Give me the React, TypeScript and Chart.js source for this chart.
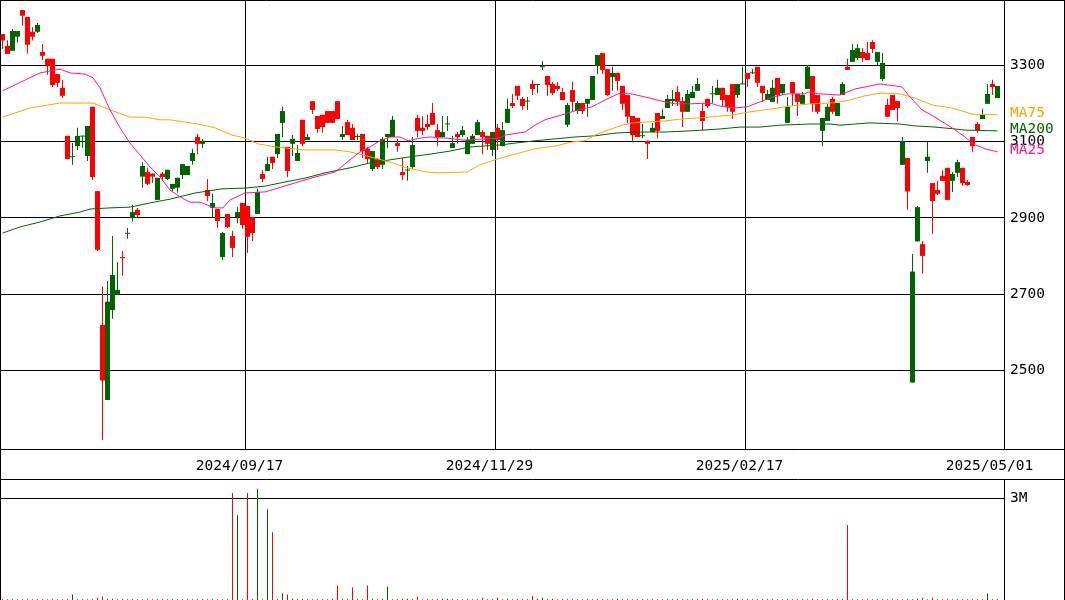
import React, { useEffect, useRef } from "react";
import { Chart, registerables } from "chart.js";

Chart.register(...registerables);

const FONT = "'DejaVu Sans Mono', 'Liberation Mono', monospace";
const FONT_SIZE = 14.5;
const UP_COLOR = "#006400";
const DOWN_COLOR = "#ff0000";
const MA25_COLOR = "#ff1493";
const MA75_COLOR = "#ffa500";
const MA200_COLOR = "#006400";

// Daily candles (index 0 .. 199), oldest first
const opens = [
  3382, 3351, 3338, 3375, 3445, 3427, 3388, 3388, 3335, 3317,
  3317, 3277, 3241, 3115, 3059, 3088, 3113, 3062, 3191, 2970,
  2619, 2422, 2658, 2698, 2797, 2858, 2899, 2921, 3008, 3020,
  3016, 2947, 3016, 3002, 2976, 2979, 3012, 3012, 3049, 3112,
  3094, 2973, 2926, 2923, 2797, 2910, 2852, 2902, 2939, 2931,
  2902, 2910, 3015, 3023, 3060, 3067, 3149, 3086, 3094, 3049,
  3157, 3104, 3206, 3167, 3170, 3180, 3180, 3206, 3112, 3151,
  3136, 3112, 3120, 3081, 3028, 3054, 3039, 3112, 3112, 3096,
  3020, 3024, 3033, 3162, 3136, 3146, 3175, 3130, 3112, 3145,
  3083, 3120, 3117, 3067, 3094, 3117, 3125, 3115, 3078, 3136,
  3088, 3149, 3201, 3246, 3212, 3205, 3251, 3248, 3295, 3272,
  3251, 3246, 3230, 3144, 3235, 3180, 3201, 3199, 3209, 3298,
  3332, 3290, 3269, 3280, 3246, 3222, 3167, 3162, 3114, 3102,
  3125, 3175, 3159, 3188, 3206, 3230, 3206, 3178, 3214, 3233,
  3180, 3212, 3224, 3222, 3241, 3222, 3251, 3222, 3250, 3280,
  3279, 3296, 3246, 3209, 3204, 3267, 3227, 3149, 3256, 3225,
  3199, 3238, 3272, 3222, 3128, 3154, 3212, 3167, 3222, 3296,
  3309, 3319, 3335, 3332, 3361, 3309, 3264, 3196, 3222, 3206,
  3039, 3057, 2468, 2838, 2831, 3049, 2991, 2973, 3010, 3031,
  2997, 3018, 3031, 2994, 3112, 3146, 3159, 3199, 3251, 3214,
];
const highs = [
  3382, 3366, 3395, 3390, 3445, 3427, 3400, 3411, 3356, 3317,
  3317, 3277, 3262, 3115, 3096, 3136, 3115, 3141, 3191, 2970,
  2720, 2734, 2852, 2784, 2813, 2873, 2934, 2926, 3046, 3031,
  3016, 3005, 3020, 3026, 2989, 3005, 3041, 3036, 3081, 3120,
  3107, 3002, 2963, 2923, 2863, 2910, 2866, 2928, 2939, 2931,
  2902, 2976, 3025, 3060, 3060, 3120, 3191, 3086, 3117, 3091,
  3157, 3120, 3206, 3167, 3170, 3180, 3180, 3206, 3141, 3157,
  3146, 3120, 3120, 3086, 3075, 3057, 3112, 3120, 3167, 3107,
  3057, 3036, 3112, 3170, 3167, 3170, 3201, 3146, 3167, 3167,
  3115, 3125, 3141, 3112, 3120, 3157, 3130, 3115, 3125, 3146,
  3151, 3212, 3225, 3246, 3217, 3217, 3262, 3251, 3311, 3272,
  3256, 3256, 3241, 3201, 3256, 3206, 3201, 3212, 3272, 3327,
  3332, 3290, 3296, 3280, 3246, 3222, 3167, 3162, 3146, 3102,
  3149, 3175, 3186, 3222, 3235, 3246, 3217, 3235, 3246, 3267,
  3199, 3212, 3246, 3262, 3241, 3222, 3251, 3251, 3296, 3280,
  3290, 3296, 3246, 3235, 3262, 3267, 3251, 3217, 3256, 3225,
  3230, 3301, 3272, 3222, 3162, 3199, 3217, 3201, 3256, 3317,
  3356, 3356, 3345, 3361, 3366, 3335, 3332, 3212, 3222, 3206,
  3112, 3057, 2805, 2931, 2839, 3099, 2991, 2997, 3025, 3031,
  3020, 3052, 3031, 2999, 3112, 3151, 3186, 3251, 3262, 3246,
];
const lows = [
  3343, 3330, 3338, 3359, 3404, 3330, 3365, 3385, 3314, 3275,
  3243, 3243, 3214, 3054, 3039, 3078, 3084, 3049, 2999, 2813,
  2317, 2422, 2635, 2698, 2748, 2845, 2890, 2902, 2979, 2986,
  2992, 2947, 2999, 2999, 2969, 2966, 3002, 3012, 3039, 3067,
  3083, 2944, 2902, 2873, 2789, 2873, 2797, 2886, 2871, 2808,
  2839, 2910, 2994, 3023, 3028, 3057, 3112, 3007, 3062, 3049,
  3088, 3104, 3172, 3123, 3123, 3149, 3149, 3159, 3104, 3117,
  3104, 3104, 3057, 3044, 3023, 3028, 3028, 3083, 3112, 3073,
  2999, 2997, 3028, 3112, 3117, 3130, 3144, 3088, 3112, 3128,
  3083, 3094, 3112, 3067, 3094, 3117, 3067, 3078, 3062, 3078,
  3088, 3149, 3188, 3209, 3183, 3183, 3222, 3227, 3288, 3220,
  3222, 3233, 3209, 3138, 3178, 3172, 3172, 3165, 3209, 3277,
  3277, 3220, 3233, 3233, 3183, 3149, 3099, 3112, 3109, 3054,
  3125, 3109, 3159, 3188, 3193, 3193, 3138, 3178, 3214, 3233,
  3130, 3188, 3201, 3222, 3193, 3178, 3159, 3214, 3250, 3243,
  3277, 3243, 3204, 3209, 3204, 3199, 3222, 3149, 3193, 3167,
  3199, 3238, 3178, 3172, 3088, 3154, 3172, 3167, 3222, 3288,
  3309, 3314, 3309, 3314, 3332, 3301, 3259, 3165, 3183, 3154,
  3039, 2921, 2468, 2838, 2753, 3018, 2858, 2960, 2997, 2947,
  2968, 3007, 2984, 2984, 3073, 3123, 3159, 3199, 3222, 3214,
];
const closes = [
  3365, 3330, 3390, 3390, 3430, 3354, 3375, 3406, 3325, 3299,
  3248, 3254, 3220, 3054, 3061, 3115, 3115, 3141, 3007, 2816,
  2473, 2680, 2750, 2711, 2794, 2860, 2915, 2907, 3036, 2989,
  3008, 3005, 3007, 3026, 2989, 3005, 3041, 3036, 3070, 3094,
  3102, 2957, 2939, 2892, 2860, 2876, 2821, 2915, 2881, 2850,
  2860, 2968, 3002, 3041, 3044, 3120, 3180, 3023, 3107, 3070,
  3094, 3112, 3183, 3133, 3138, 3149, 3149, 3159, 3120, 3117,
  3104, 3115, 3075, 3054, 3075, 3033, 3107, 3120, 3157, 3088,
  3012, 3026, 3091, 3128, 3128, 3138, 3144, 3112, 3125, 3147,
  3096, 3112, 3130, 3104, 3115, 3151, 3112, 3094, 3125, 3104,
  3130, 3186, 3193, 3220, 3193, 3207, 3238, 3251, 3297, 3248,
  3227, 3238, 3209, 3196, 3204, 3201, 3180, 3212, 3272, 3327,
  3288, 3222, 3280, 3259, 3199, 3165, 3117, 3112, 3116, 3094,
  3136, 3128, 3167, 3212, 3212, 3204, 3178, 3225, 3230, 3251,
  3154, 3193, 3226, 3241, 3209, 3191, 3178, 3251, 3252, 3264,
  3281, 3254, 3227, 3225, 3241, 3222, 3251, 3191, 3227, 3204,
  3222, 3296, 3199, 3178, 3162, 3191, 3178, 3201, 3251, 3288,
  3340, 3345, 3319, 3314, 3343, 3335, 3306, 3165, 3183, 3188,
  3101, 2969, 2759, 2928, 2800, 3060, 2944, 2963, 2997, 2947,
  3015, 3046, 2991, 2986, 3088, 3130, 3170, 3225, 3243, 3246,
];
const volumes = [
  20000, 20000, 20000, 20000, 20000, 20000, 20000, 20000, 20000, 20000,
  20000, 20000, 20000, 20000, 160000, 20000, 20000, 20000, 20000, 70000,
  100000, 40000, 40000, 20000, 20000, 20000, 20000, 20000, 20000, 20000,
  20000, 20000, 20000, 20000, 20000, 20000, 20000, 20000, 20000, 20000,
  20000, 20000, 20000, 20000, 20000, 20000, 3160000, 2500000, 20000, 3160000,
  20000, 3280000, 20000, 2680000, 2000000, 20000, 190000, 160000, 40000, 20000,
  40000, 20000, 20000, 20000, 20000, 20000, 40000, 425000, 20000, 20000,
  366000, 20000, 20000, 425000, 40000, 20000, 40000, 396000, 20000, 20000,
  40000, 40000, 20000, 100000, 20000, 20000, 20000, 20000, 40000, 40000,
  20000, 20000, 20000, 20000, 20000, 20000, 70000, 20000, 20000, 70000,
  20000, 40000, 20000, 20000, 20000, 20000, 129000, 40000, 70000, 20000,
  40000, 20000, 20000, 20000, 20000, 20000, 20000, 20000, 20000, 20000,
  20000, 20000, 20000, 40000, 20000, 20000, 20000, 20000, 20000, 20000,
  20000, 20000, 20000, 20000, 20000, 20000, 20000, 20000, 20000, 20000,
  40000, 20000, 20000, 20000, 20000, 20000, 20000, 40000, 20000, 20000,
  20000, 20000, 20000, 20000, 20000, 20000, 20000, 20000, 20000, 20000,
  20000, 20000, 40000, 20000, 20000, 20000, 20000, 20000, 20000, 2210000,
  20000, 20000, 20000, 20000, 20000, 20000, 20000, 20000, 20000, 20000,
  20000, 20000, 20000, 40000, 70000, 20000, 70000, 20000, 20000, 20000,
  20000, 20000, 20000, 20000, 20000, 20000, 20000, 190000, 20000, 20000,
];

// Moving averages (candle index, value)
const ma25Idx = [0, 7.5, 11.5, 13.5, 16.5, 18.1, 19.5, 21.5, 23.5, 25.5, 27.5, 29.5, 31.5, 33.5, 35.5, 37.5, 39.5, 42.5, 44.1, 45.5, 48.5, 52.5, 55.9, 59.1, 62.5, 66.5, 69.5, 71.5, 73.5, 75.5, 77.5, 79.5, 81.1, 83.5, 85.5, 88.9, 92.1, 99.5, 100.5, 104.5, 106.5, 108.5, 111.9, 115.1, 117.9, 120.5, 123.1, 125.1, 128.5, 132.5, 134.5, 137.5, 141.5, 143.5, 146.1, 148.9, 151.5, 154.1, 156.9, 160.5, 161.1, 163.5, 167.5, 170.5, 173.5, 175.5, 178.5, 179.9, 181.5, 183.9, 186.5, 189.9, 192.5, 194.1, 196.5, 199];
const ma25Val = [3233, 3280, 3290, 3280, 3277, 3267, 3241, 3183, 3136, 3096, 3065, 3033, 3007, 2973, 2955, 2941, 2941, 2926, 2926, 2947, 2965, 2968, 2981, 2994, 3007, 3020, 3052, 3073, 3086, 3102, 3112, 3112, 3102, 3109, 3112, 3109, 3104, 3109, 3117, 3125, 3143, 3157, 3170, 3183, 3191, 3209, 3225, 3227, 3217, 3204, 3199, 3199, 3201, 3193, 3188, 3191, 3204, 3217, 3225, 3225, 3230, 3225, 3222, 3238, 3246, 3251, 3246, 3243, 3217, 3183, 3164, 3136, 3112, 3094, 3081, 3073];
const ma75Idx = [0, 5.5, 11.5, 18.1, 21.5, 25.5, 28.5, 31.5, 33.5, 39.1, 42.5, 45.9, 48.5, 51.1, 54.5, 60.5, 66.5, 69.5, 73.5, 77.5, 80.9, 84.9, 86.9, 92.9, 95.5, 98.9, 102.5, 106.5, 110.5, 113.9, 116.5, 118.5, 121.1, 123.9, 125.9, 132.5, 135.5, 139.5, 143.5, 146.1, 149.5, 153.5, 157.5, 161.5, 165.5, 168.5, 172.5, 175.5, 179.5, 182.5, 185.9, 189.9, 193.9, 199];
const ma75Val = [3164, 3188, 3201, 3201, 3183, 3164, 3164, 3157, 3157, 3146, 3136, 3117, 3109, 3094, 3086, 3078, 3078, 3073, 3060, 3046, 3031, 3020, 3018, 3020, 3039, 3054, 3067, 3081, 3088, 3099, 3102, 3117, 3130, 3143, 3149, 3154, 3159, 3162, 3167, 3170, 3178, 3185, 3193, 3199, 3201, 3206, 3220, 3227, 3225, 3214, 3196, 3188, 3172, 3170];
const ma200Idx = [0, 3.5, 7.5, 11.5, 15.5, 17.5, 21.5, 25.5, 29.5, 33.5, 38.5, 43.9, 48.5, 52.5, 56.5, 60.5, 64.5, 69.5, 73.5, 77.5, 81.5, 85.5, 89.5, 93.5, 99.5, 102.5, 106.5, 110.5, 114.5, 118.5, 122.5, 126.5, 132.5, 137.5, 143.5, 147.5, 151.5, 155.5, 161.5, 165.5, 167.5, 173.5, 179.5, 182.5, 186.5, 190.5, 192.5, 199];
const ma200Val = [2860, 2876, 2889, 2905, 2915, 2923, 2926, 2928, 2939, 2949, 2965, 2976, 2978, 2983, 2994, 3004, 3018, 3031, 3044, 3052, 3060, 3067, 3075, 3086, 3091, 3096, 3102, 3107, 3112, 3115, 3122, 3125, 3125, 3128, 3133, 3138, 3138, 3143, 3146, 3146, 3143, 3149, 3146, 3141, 3138, 3133, 3130, 3128];

// Axis ticks
const dateTickPos = [48.6, 98.6, 148.6, 198.6];
const dateLabels = ["2024/09/17", "2024/11/29", "2025/02/17", "2025/05/01"];
const priceTicks = [2500, 2700, 2900, 3100, 3300];
const volumeTicks = [3000000];
const volumeTickLabels = ["3M"];

const X_MIN = -0.5;
const X_MAX = 200.3;
const PRICE_MIN = 2293.6;
const PRICE_MAX = 3471.3;
const VOLUME_MAX = 3540000;

function pairs(idx: number[], vals: number[]) {
  const n = Math.min(idx.length, vals.length);
  const out: { x: number; y: number }[] = [];
  for (let i = 0; i < n; i++) out.push({ x: idx[i], y: vals[i] });
  return out;
}

export default function App() {
  const priceRef = useRef<HTMLCanvasElement | null>(null);
  const volRef = useRef<HTMLCanvasElement | null>(null);

  useEffect(() => {
    document.body.style.margin = "0";
    const colors = opens.map((o, i) => (closes[i] >= o ? UP_COLOR : DOWN_COLOR));
    const wickData = opens.map((_, i) => ({ x: i, y: [lows[i], highs[i]] }));
    const bodyData = opens.map((o, i) => ({
      x: i,
      y: [Math.min(o, closes[i]), Math.max(o, closes[i])],
    }));
    const volData = volumes.map((v, i) => ({ x: i, y: v }));
    const font = { family: FONT, size: FONT_SIZE };

    const line = (ctx: CanvasRenderingContext2D, x1: number, y1: number, x2: number, y2: number) => {
      ctx.beginPath();
      ctx.moveTo(x1, y1);
      ctx.lineTo(x2, y2);
      ctx.stroke();
    };

    const priceFrame = {
      id: "priceFrame",
      afterDraw(chart: any) {
        const { ctx, chartArea, width, height } = chart;
        ctx.save();
        ctx.strokeStyle = "#000";
        ctx.lineWidth = 1;
        line(ctx, 0, 0.5, width, 0.5);
        line(ctx, 0.5, 0, 0.5, height);
        line(ctx, width - 0.5, 0, width - 0.5, height);
        line(ctx, chartArea.right + 0.5, 0, chartArea.right + 0.5, chartArea.bottom);
        line(ctx, 0, chartArea.bottom + 0.5, width, chartArea.bottom + 0.5);
        line(ctx, 0, height - 0.5, width, height - 0.5);
        // MA labels
        const ys = chart.scales.y;
        ctx.font = `${FONT_SIZE}px ${FONT}`;
        ctx.textAlign = "left";
        ctx.textBaseline = "middle";
        const items: [number[], string, string][] = [
          [ma75Val, MA75_COLOR, "MA75"],
          [ma200Val, MA200_COLOR, "MA200"],
          [ma25Val, MA25_COLOR, "MA25"],
        ];
        for (const [vals, col, txt] of items) {
          ctx.fillStyle = col;
          ctx.fillText(txt, chartArea.right + 6, ys.getPixelForValue(vals[vals.length - 1]) - 2);
        }
        ctx.restore();
      },
    };

    const volFrame = {
      id: "volFrame",
      afterDraw(chart: any) {
        const { ctx, chartArea, width, height } = chart;
        ctx.save();
        ctx.strokeStyle = "#000";
        ctx.lineWidth = 1;
        line(ctx, 0.5, 0, 0.5, height);
        line(ctx, width - 0.5, 0, width - 0.5, height);
        line(ctx, chartArea.right + 0.5, 0, chartArea.right + 0.5, height);
        ctx.restore();
      },
    };

    const price = new Chart(priceRef.current as HTMLCanvasElement, {
      type: "bar",
      data: {
        datasets: [
          {
            type: "bar",
            data: wickData as any,
            backgroundColor: colors,
            barThickness: 1,
            grouped: false,
            inflateAmount: 0,
            order: 5,
          } as any,
          {
            type: "bar",
            data: bodyData as any,
            backgroundColor: colors,
            barThickness: 5,
            grouped: false,
            minBarLength: 1,
            inflateAmount: 0,
            order: 4,
          } as any,
          {
            type: "line",
            data: pairs(ma200Idx, ma200Val),
            borderColor: MA200_COLOR,
            borderWidth: 1,
            pointRadius: 0,
            tension: 0,
            fill: false,
            order: 3,
          } as any,
          {
            type: "line",
            data: pairs(ma75Idx, ma75Val),
            borderColor: MA75_COLOR,
            borderWidth: 1,
            pointRadius: 0,
            tension: 0,
            fill: false,
            order: 2,
          } as any,
          {
            type: "line",
            data: pairs(ma25Idx, ma25Val),
            borderColor: MA25_COLOR,
            borderWidth: 1,
            pointRadius: 0,
            tension: 0,
            fill: false,
            order: 1,
          } as any,
        ],
      },
      options: {
        animation: false,
        responsive: false,
        maintainAspectRatio: false,
        devicePixelRatio: 1,
        events: [],
        layout: { padding: 0 },
        plugins: { legend: { display: false }, tooltip: { enabled: false } },
        scales: {
          x: {
            type: "linear",
            position: "bottom",
            min: X_MIN,
            max: X_MAX,
            offset: false,
            afterBuildTicks: (s: any) => {
              s.ticks = dateTickPos.map((v) => ({ value: v }));
            },
            afterFit: (s: any) => {
              s.height = 31;
              s.paddingLeft = 0;
              s.paddingRight = 0;
            },
            grid: {
              offset: false,
              color: (c: any) => (c.index === 3 ? "rgba(0,0,0,0)" : "#000"),
              lineWidth: 1,
              drawTicks: false,
            },
            border: { display: false },
            ticks: {
              callback: (_v: any, i: number) => dateLabels[i],
              autoSkip: false,
              maxRotation: 0,
              minRotation: 0,
              padding: 9,
              labelOffset: -6,
              color: "#000",
              font,
            },
          },
          y: {
            type: "linear",
            position: "right",
            min: PRICE_MIN,
            max: PRICE_MAX,
            afterBuildTicks: (s: any) => {
              s.ticks = priceTicks.map((v) => ({ value: v }));
            },
            afterFit: (s: any) => {
              s.width = 61;
              s.paddingTop = 0;
              s.paddingBottom = 0;
            },
            grid: { color: "#000", lineWidth: 1, drawTicks: false },
            border: { display: false },
            ticks: {
              callback: (v: any) => String(v),
              padding: 6,
              color: "#000",
              font,
            },
          },
        },
      } as any,
      plugins: [priceFrame],
    });

    const vol = new Chart(volRef.current as HTMLCanvasElement, {
      type: "bar",
      data: {
        datasets: [
          {
            type: "bar",
            data: volData as any,
            backgroundColor: colors,
            barThickness: 1,
            grouped: false,
            inflateAmount: 0,
          } as any,
        ],
      },
      options: {
        animation: false,
        responsive: false,
        maintainAspectRatio: false,
        devicePixelRatio: 1,
        events: [],
        layout: { padding: 0 },
        plugins: { legend: { display: false }, tooltip: { enabled: false } },
        scales: {
          x: {
            type: "linear",
            min: X_MIN,
            max: X_MAX,
            offset: false,
            grid: { offset: false },
            display: false,
          },
          y: {
            type: "linear",
            position: "right",
            min: 0,
            max: VOLUME_MAX,
            afterBuildTicks: (s: any) => {
              s.ticks = volumeTicks.map((v) => ({ value: v }));
            },
            afterFit: (s: any) => {
              s.width = 61;
              s.paddingTop = 0;
              s.paddingBottom = 0;
            },
            grid: { color: "#000", lineWidth: 1, drawTicks: false },
            border: { display: false },
            ticks: {
              callback: (_v: any, i: number) => volumeTickLabels[i],
              padding: 6,
              color: "#000",
              font,
            },
          },
        },
      } as any,
      plugins: [volFrame],
    });

    return () => {
      price.destroy();
      vol.destroy();
    };
  }, []);

  return (
    <div style={{ position: "relative", width: 1065, height: 600, background: "#fff", overflow: "hidden" }}>
      <canvas
        ref={priceRef}
        width={1065}
        height={480}
        style={{ position: "absolute", left: 0, top: 0, width: 1065, height: 480, display: "block" }}
      />
      <canvas
        ref={volRef}
        width={1065}
        height={120}
        style={{ position: "absolute", left: 0, top: 480, width: 1065, height: 120, display: "block" }}
      />
    </div>
  );
}
